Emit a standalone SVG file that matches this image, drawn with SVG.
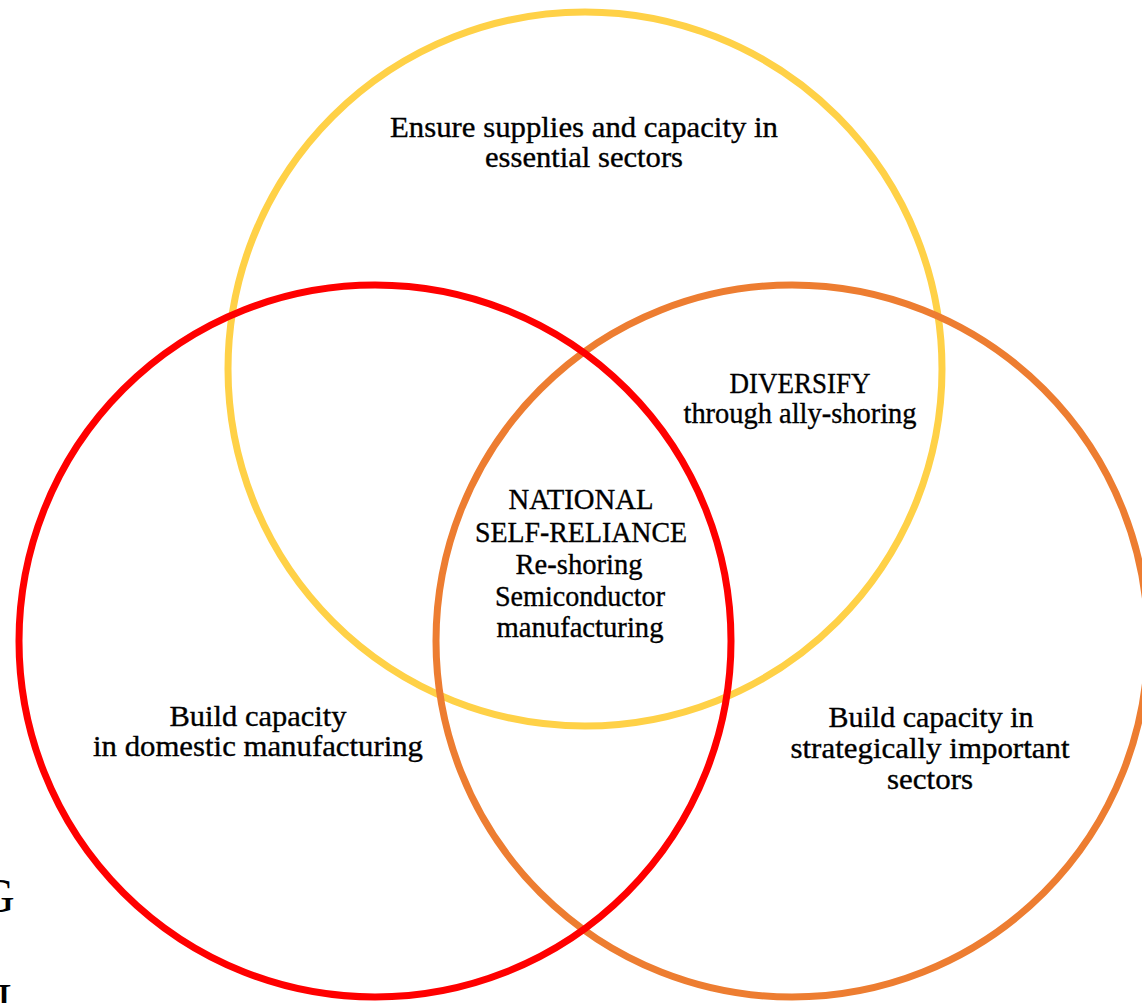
<svg xmlns="http://www.w3.org/2000/svg" width="1142" height="1003" viewBox="0 0 1142 1003">
<style>
.ring{fill:none;stroke-width:7}
.lbl{font-family:"Liberation Serif","DejaVu Serif",serif;font-size:30px;fill:#000;stroke:#000;stroke-width:0.35;text-anchor:middle}
.edge{font-family:"Liberation Serif","DejaVu Serif",serif;font-size:48px;fill:#000}
</style>
<rect width="1142" height="1003" fill="#fff"/>
<g id="circle-essential">
<circle class="ring" cx="585" cy="369" r="357" stroke="#FFD147"/>
</g>
<g id="circle-strategic">
<circle class="ring" cx="792" cy="641" r="356" stroke="#ED7D31"/>
</g>
<g id="circle-domestic">
<circle class="ring" cx="375" cy="641" r="356" stroke="#FF0000"/>
</g>
<g id="connectors"></g>
<g id="label-essential">
<text class="lbl" x="584" y="137" textLength="388" lengthAdjust="spacingAndGlyphs">Ensure supplies and capacity in</text>
<text class="lbl" x="584" y="167" textLength="198" lengthAdjust="spacingAndGlyphs">essential sectors</text>
</g>
<g id="label-diversify">
<text class="lbl" x="800" y="393" textLength="141" lengthAdjust="spacingAndGlyphs">DIVERSIFY</text>
<text class="lbl" x="800" y="423" textLength="233" lengthAdjust="spacingAndGlyphs">through ally-shoring</text>
</g>
<g id="label-national">
<text class="lbl" x="581" y="509" textLength="145" lengthAdjust="spacingAndGlyphs">NATIONAL</text>
<text class="lbl" x="581" y="542" textLength="212" lengthAdjust="spacingAndGlyphs">SELF-RELIANCE</text>
<text class="lbl" x="579" y="574" textLength="127" lengthAdjust="spacingAndGlyphs">Re-shoring</text>
<text class="lbl" x="580" y="606" textLength="170" lengthAdjust="spacingAndGlyphs">Semiconductor</text>
<text class="lbl" x="580" y="637" textLength="167" lengthAdjust="spacingAndGlyphs">manufacturing</text>
</g>
<g id="label-domestic">
<text class="lbl" x="258" y="726" textLength="177" lengthAdjust="spacingAndGlyphs">Build capacity</text>
<text class="lbl" x="258" y="756" textLength="330" lengthAdjust="spacingAndGlyphs">in domestic manufacturing</text>
</g>
<g id="label-strategic">
<text class="lbl" x="931" y="727" textLength="205" lengthAdjust="spacingAndGlyphs">Build capacity in</text>
<text class="lbl" x="930" y="758" textLength="279" lengthAdjust="spacingAndGlyphs">strategically important</text>
<text class="lbl" x="930" y="789" textLength="86" lengthAdjust="spacingAndGlyphs">sectors</text>
</g>
<g id="edge-text">
<text class="edge" x="-20" y="912">G</text>
<text class="edge" x="-4" y="1017">I</text>
</g>
</svg>
